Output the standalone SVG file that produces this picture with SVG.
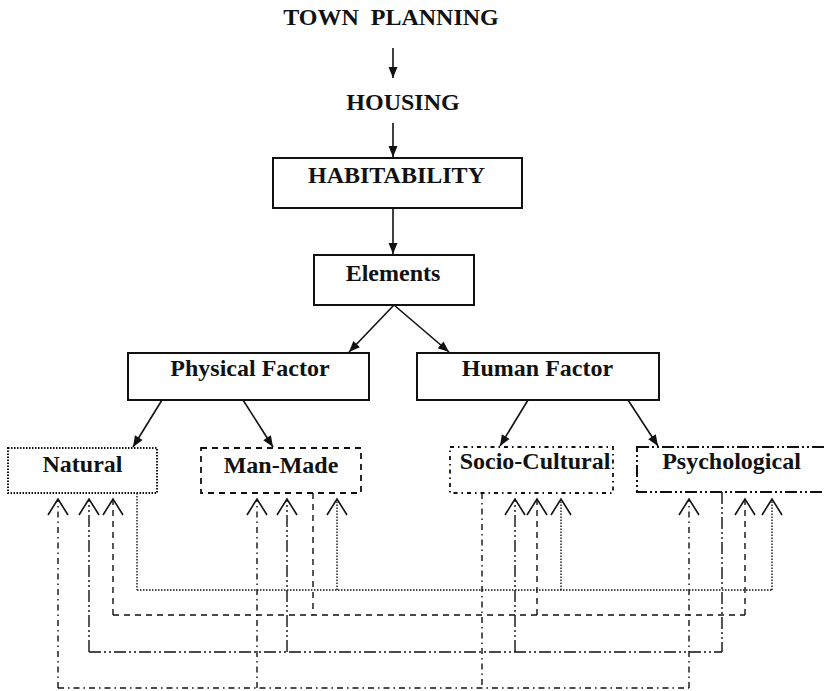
<svg xmlns="http://www.w3.org/2000/svg" width="824" height="691" viewBox="0 0 824 691">
<defs>
<style>
text{font-family:"Liberation Serif","Times New Roman",serif;font-weight:bold;font-size:24px;fill:#111;text-anchor:middle}
.solid{fill:#fff;stroke:#111;stroke-width:2}
.b-nat{fill:#fff;stroke:#111;stroke-width:2;stroke-dasharray:1.5 1.5}
.b-man{fill:#fff;stroke:#111;stroke-width:1.8;stroke-dasharray:6 5}
.b-soc{fill:#fff;stroke:#111;stroke-width:1.8;stroke-dasharray:4 4 1.5 4}
.b-psy{fill:#fff;stroke:#111;stroke-width:2;stroke-dasharray:12 3 2 3 2 3}
.arr{fill:none;stroke:#111;stroke-width:1.6;marker-end:url(#tri)}
.c{fill:none;stroke:#111;stroke-width:1.4}
.c-nat{stroke-dasharray:1.5 1.5}
.c-man{stroke-dasharray:6 5}
.c-soc{stroke-dasharray:6 4 1.5 4}
.c-psy{stroke-dasharray:12 3 2 3 2 3}
.up{marker-end:url(#chev)}
</style>
<marker id="tri" markerUnits="userSpaceOnUse" markerWidth="12" markerHeight="10" viewBox="-11 -5 12 10" refX="0" refY="0" orient="auto" overflow="visible">
<path d="M-11,-4.5 L0,0 L-11,4.5 Z" fill="#111"/>
</marker>
<marker id="chev" markerUnits="userSpaceOnUse" markerWidth="20" markerHeight="22" viewBox="-17 -11 18 22" refX="0" refY="0" orient="auto" overflow="visible">
<path d="M-16,-10 L0,0 L-16,10" fill="none" stroke="#111" stroke-width="1.6"/>
</marker>
</defs>
<rect width="824" height="691" fill="#fff"/>

<g id="town-planning"><text x="391" y="25" xml:space="preserve">TOWN  PLANNING</text></g>
<g id="housing"><text x="403" y="110">HOUSING</text></g>
<g id="habitability"><rect class="solid" x="273" y="158" width="249" height="50"/><text x="396.5" y="183">HABITABILITY</text></g>
<g id="elements"><rect class="solid" x="314" y="255" width="160" height="50"/><text x="393" y="281">Elements</text></g>
<g id="physical-factor"><rect class="solid" x="128" y="353" width="241" height="47"/><text x="250" y="376">Physical Factor</text></g>
<g id="human-factor"><rect class="solid" x="417" y="353" width="242" height="47"/><text x="537.5" y="376">Human Factor</text></g>
<g id="natural"><rect class="b-nat" x="8" y="448" width="149" height="45"/><text x="82.5" y="472">Natural</text></g>
<g id="man-made"><rect class="b-man" x="201" y="448" width="160" height="45"/><text x="281" y="473">Man-Made</text></g>
<g id="socio-cultural"><rect class="b-soc" x="450" y="447" width="163" height="46"/><text x="535" y="469">Socio-Cultural</text></g>
<g id="psychological"><rect class="b-psy" x="637" y="447" width="195" height="45"/><text x="731.5" y="469">Psychological</text></g>

<g id="connectors">
<line class="arr" x1="393" y1="48" x2="393" y2="78"/>
<line class="arr" x1="393" y1="123" x2="393" y2="157"/>
<line class="arr" x1="393" y1="208" x2="393" y2="254"/>
<line class="arr" x1="394" y1="305" x2="349" y2="352"/>
<line class="arr" x1="394" y1="305" x2="449" y2="352"/>
<line class="arr" x1="162" y1="400" x2="133" y2="447"/>
<line class="arr" x1="243" y1="400" x2="273" y2="447"/>
<line class="arr" x1="528" y1="400" x2="500" y2="446"/>
<line class="arr" x1="628" y1="400" x2="658" y2="446"/>

<!-- from Natural (dotted) -->
<path class="c c-nat" d="M137,493 V590 M137,590 H772"/>
<line class="c c-nat up" x1="337" y1="590" x2="337" y2="499"/>
<line class="c c-nat up" x1="561" y1="590" x2="561" y2="499"/>
<line class="c c-nat up" x1="772" y1="590" x2="772" y2="499"/>

<!-- from Man-Made (dashed) -->
<path class="c c-man" d="M313,493 V615 M113,615 H745"/>
<line class="c c-man up" x1="113" y1="615" x2="113" y2="499"/>
<line class="c c-man up" x1="537" y1="615" x2="537" y2="499"/>
<line class="c c-man up" x1="745" y1="615" x2="745" y2="499"/>

<!-- from Psychological (dash-dot-dot) -->
<path class="c c-psy" d="M722,492 V652 M89,652 H722"/>
<line class="c c-psy up" x1="89" y1="652" x2="89" y2="499"/>
<line class="c c-psy up" x1="287" y1="652" x2="287" y2="499"/>
<line class="c c-psy up" x1="515" y1="652" x2="515" y2="499"/>

<!-- from Socio-Cultural (dash-dot) -->
<path class="c c-soc" d="M482,493 V688 M58,688 H689"/>
<line class="c c-soc up" x1="58" y1="688" x2="58" y2="499"/>
<line class="c c-soc up" x1="257" y1="688" x2="257" y2="499"/>
<line class="c c-soc up" x1="689" y1="688" x2="689" y2="499"/>
</g>
</svg>
